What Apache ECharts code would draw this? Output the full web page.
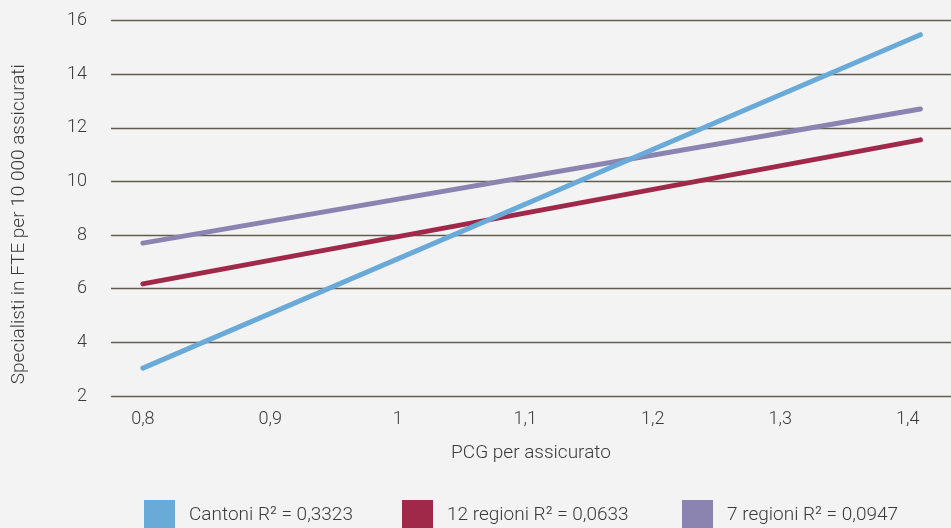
<!DOCTYPE html>
<html>
<head>
<meta charset="utf-8">
<script src="https://cdn.jsdelivr.net/npm/echarts@6/dist/echarts.min.js"></script>
<style>
html,body{margin:0;padding:0;background:#f3f3f3;}
#c{width:951px;height:528px;}
</style>
</head>
<body>
<div id="c"></div>
<script>
const xTicks = [0.8, 0.9, 1.0, 1.1, 1.2, 1.3, 1.4];
const seriesNames = ['Cantoni R² = 0,3323', '12 regioni R² = 0,0633', '7 regioni R² = 0,0947'];
const cantoni = [[0.8, 3.04], [1.41, 15.47]];
const regioni12 = [[0.8, 6.18], [1.41, 11.55]];
const regioni7 = [[0.8, 7.70], [1.41, 12.70]];
const colors = ['#6aaad8', '#a0294a', '#8c84b0'];

const font = 'Roboto, "Noto Sans", sans-serif';
const txt = '#3a3a3a';
const chart = echarts.init(document.getElementById('c'));
function legend(i, left) {
  return {
    data: [seriesNames[i]], left: left, top: 500, itemWidth: 31, itemHeight: 30,
    itemGap: 0, padding: 0, icon: 'rect',
    textStyle: {fontFamily: font, fontSize: 19, fontWeight: 300, color: txt, padding: [0, 0, 0, 9]}
  };
}
chart.setOption({
  backgroundColor: '#f3f3f3',
  animation: false,
  grid: {left: 111, right: 0, top: 20.5, bottom: 132},
  legend: [legend(0, 144), legend(1, 402), legend(2, 682)],
  xAxis: {
    type: 'value', min: 0.775, max: 1.434,
    name: 'PCG per assicurato', nameLocation: 'middle', nameGap: 48,
    nameTextStyle: {fontFamily: font, fontSize: 19, fontWeight: 300, color: txt},
    axisLine: {show: false}, axisTick: {show: false}, splitLine: {show: false},
    axisLabel: {
      customValues: xTicks, margin: 14,
      fontFamily: font, fontSize: 18, fontWeight: 300, color: txt,
      formatter: v => String(Math.round(v * 10) / 10).replace('.', ',')
    }
  },
  yAxis: {
    type: 'value', min: 2, max: 16, interval: 2,
    name: 'Specialisti in FTE per 10 000 assicurati', nameLocation: 'middle', nameGap: 82,
    nameTextStyle: {fontFamily: font, fontSize: 19, fontWeight: 300, color: txt, padding: [0, 32, 0, 0]},
    axisLine: {show: false}, axisTick: {show: false},
    axisLabel: {margin: 24, fontFamily: font, fontSize: 18, fontWeight: 300, color: txt},
    splitLine: {lineStyle: {color: '#5f5c50', width: 1.3}}
  },
  series: [
    {name: seriesNames[0], type: 'line', data: cantoni, showSymbol: false, lineStyle: {width: 5, color: colors[0], cap: 'round'}, itemStyle: {color: colors[0]}, z: 3},
    {name: seriesNames[1], type: 'line', data: regioni12, showSymbol: false, lineStyle: {width: 5, color: colors[1], cap: 'round'}, itemStyle: {color: colors[1]}, z: 2},
    {name: seriesNames[2], type: 'line', data: regioni7, showSymbol: false, lineStyle: {width: 5, color: colors[2], cap: 'round'}, itemStyle: {color: colors[2]}, z: 2}
  ]
});
</script>
</body>
</html>
